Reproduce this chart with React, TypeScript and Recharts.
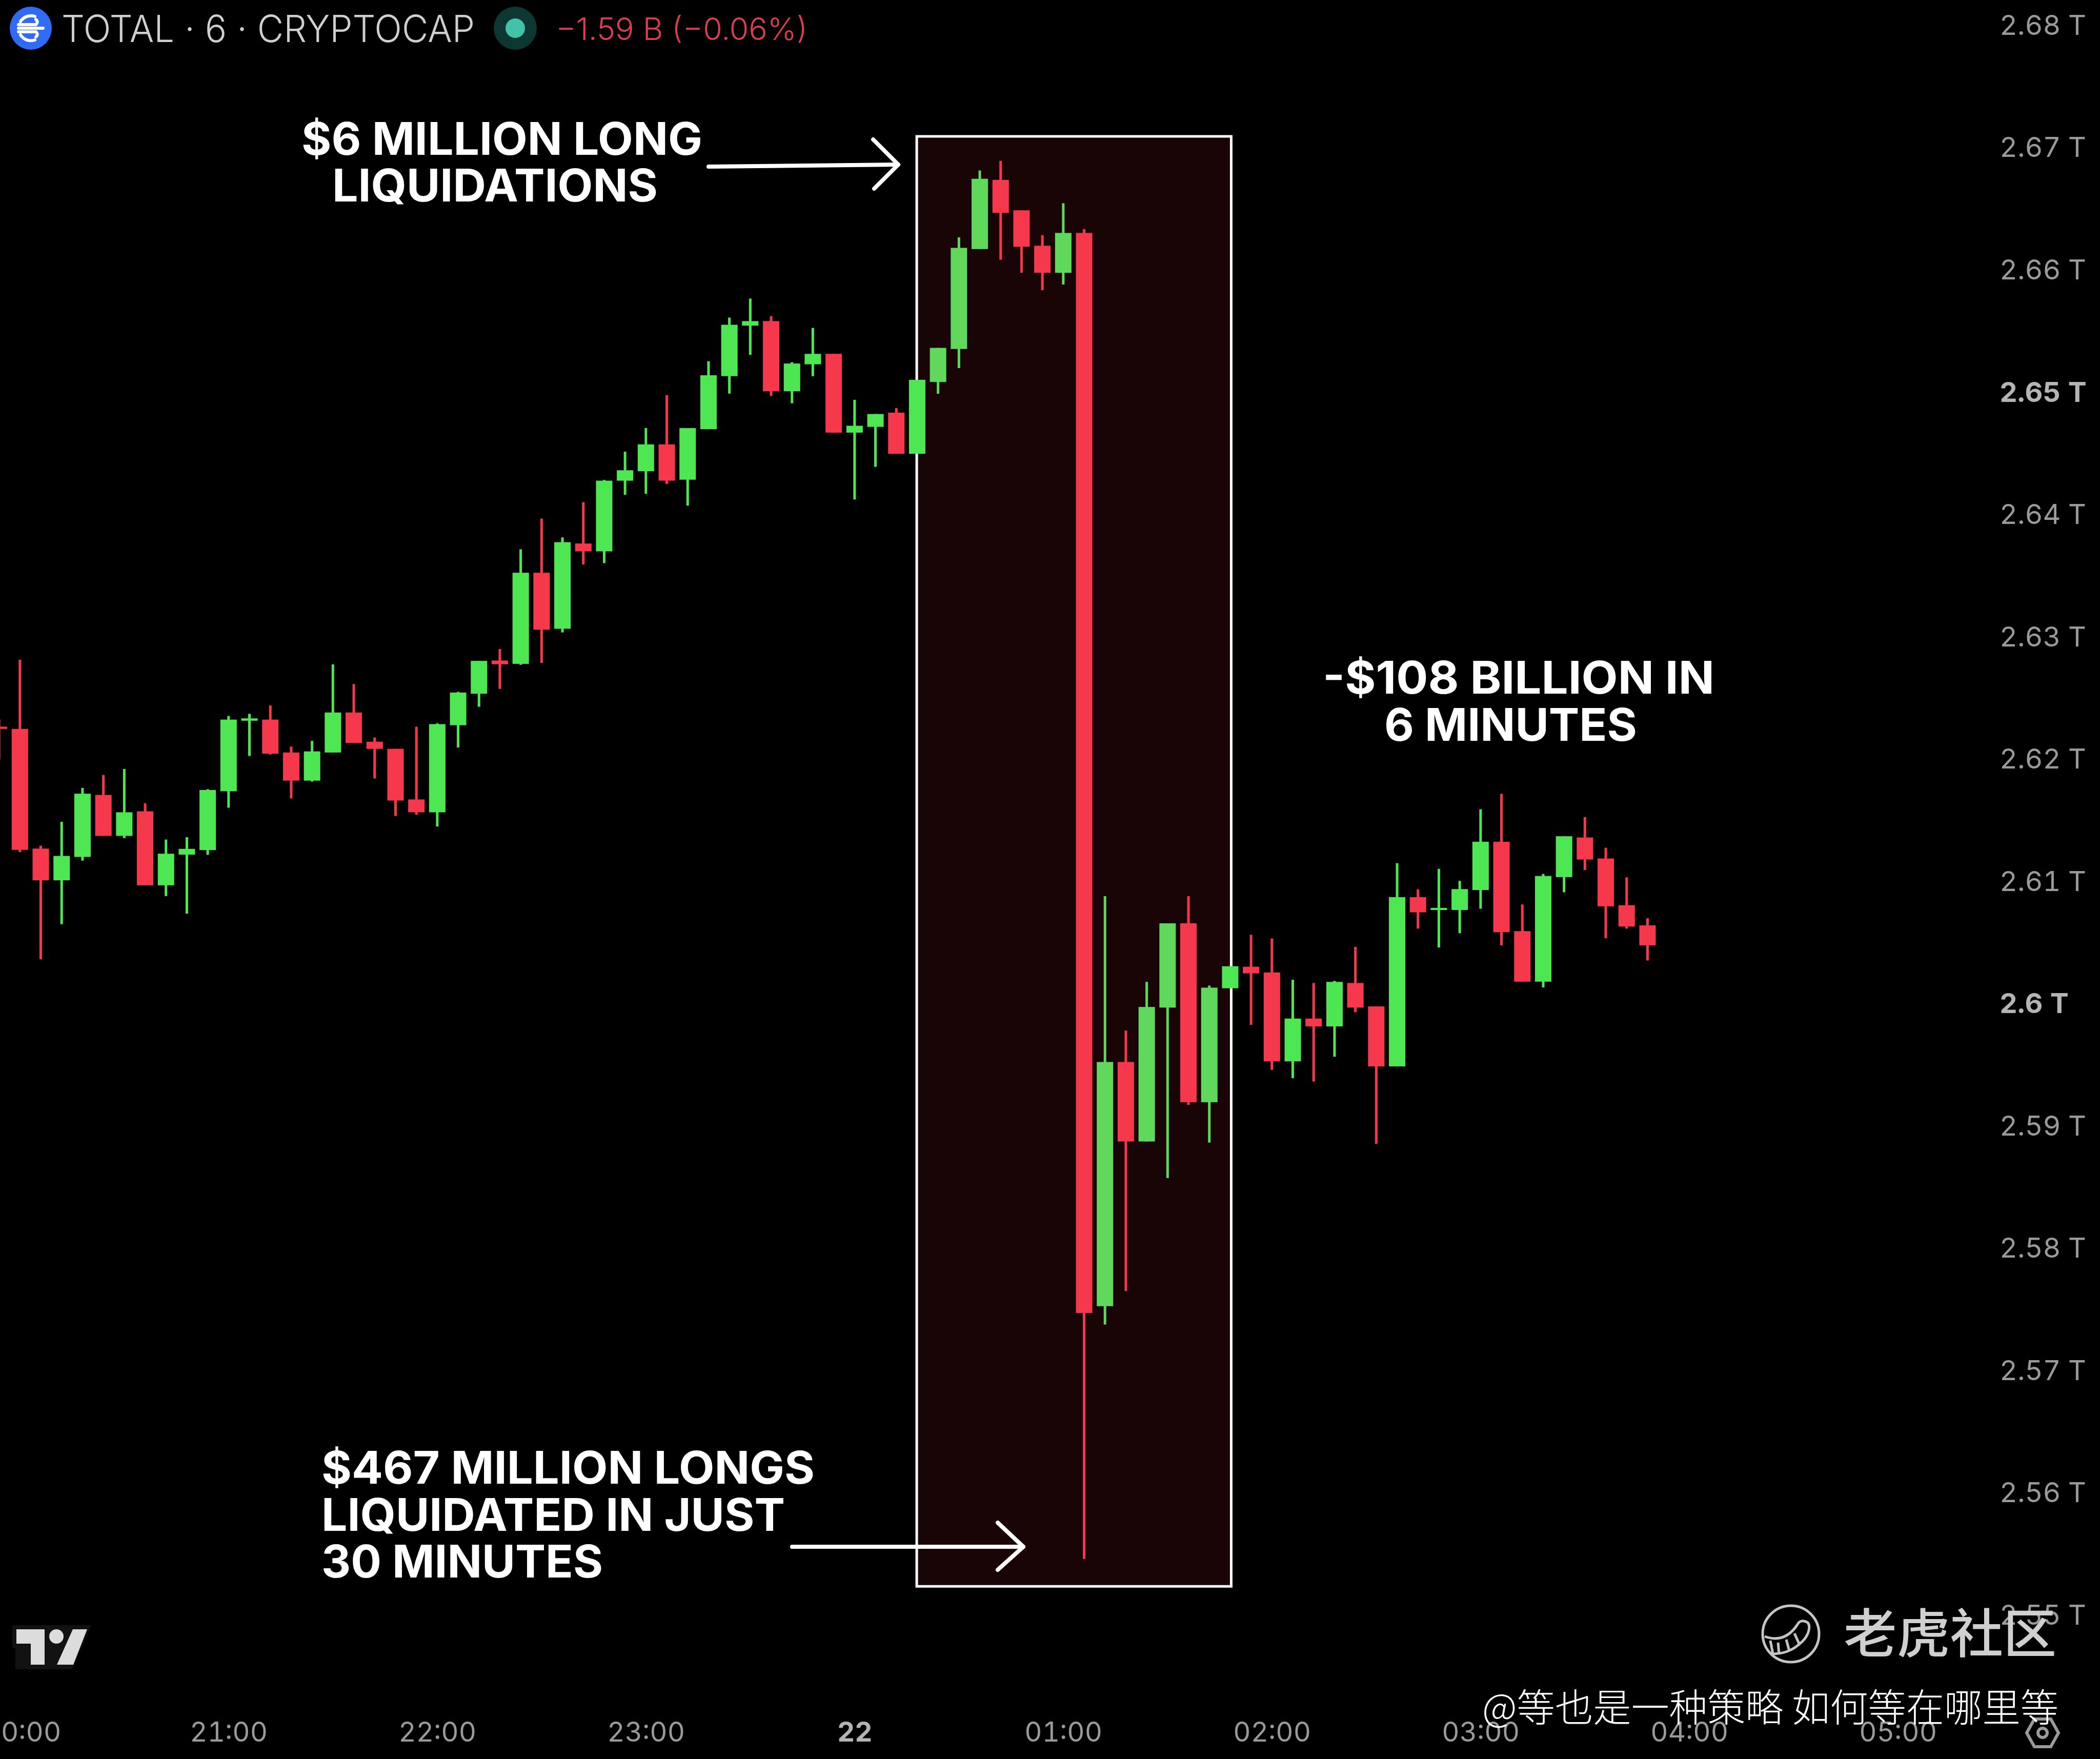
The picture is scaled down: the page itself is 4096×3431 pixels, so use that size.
import React from "react";
import { ComposedChart, Bar, XAxis, YAxis, ReferenceArea } from "recharts";

const W = 4096;
const H = 3431;
const GREEN = "#4ee652";
const GREEN_IN_WINDOW = "#5fd85c";
const RED = "#f5384c";

// Six-minute candles, values in billions of USD. First index is -1 (the one cut by the left edge).
const firstIndex = -1;
const opens = [
  2622.54, 2622.36, 2612.57, 2609.98, 2611.89, 2616.96, 2613.61, 2615.62, 2609.57, 2612.08,
  2612.45, 2617.26, 2623.03, 2623.12, 2620.43, 2618.13, 2620.43, 2623.70, 2621.31, 2620.73,
  2616.59, 2615.54, 2622.66, 2625.24, 2627.95, 2627.68, 2635.13, 2630.55, 2637.52, 2636.88,
  2642.66, 2643.43, 2645.63, 2642.74, 2646.87, 2651.21, 2655.34, 2655.71, 2649.97, 2652.18,
  2653.03, 2646.59, 2647.06, 2648.22, 2644.86, 2650.73, 2653.43, 2661.60, 2667.26, 2664.77,
  2661.87, 2659.66, 2662.92, 2575.15, 2595.12, 2588.62, 2599.57, 2606.46, 2591.83, 2601.15,
  2602.91, 2602.44, 2595.17, 2598.67, 2598.03, 2601.58, 2599.66, 2594.76, 2608.60, 2607.55,
  2607.55, 2609.18, 2613.13, 2605.82, 2601.69, 2610.24, 2613.48, 2611.76, 2607.94, 2606.29,
];
const closes = [
  2622.36, 2612.47, 2609.98, 2611.97, 2617.06, 2613.61, 2615.54, 2609.57, 2612.15, 2612.55,
  2617.36, 2623.12, 2623.22, 2620.33, 2618.13, 2620.52, 2623.70, 2621.21, 2620.73, 2616.50,
  2615.54, 2622.75, 2625.33, 2627.92, 2627.65, 2635.13, 2630.47, 2637.63, 2636.88, 2642.66,
  2643.51, 2645.63, 2642.66, 2646.96, 2651.28, 2655.41, 2655.71, 2649.97, 2652.24, 2653.03,
  2646.59, 2647.15, 2648.11, 2644.86, 2650.91, 2653.52, 2661.70, 2667.35, 2664.56, 2661.79,
  2659.66, 2662.92, 2574.59, 2595.12, 2588.62, 2599.62, 2606.46, 2591.83, 2601.20, 2602.95,
  2602.37, 2595.17, 2598.67, 2598.03, 2601.67, 2599.57, 2594.76, 2608.60, 2607.36, 2607.72,
  2609.26, 2613.13, 2605.73, 2601.69, 2610.33, 2613.58, 2611.68, 2607.85, 2606.20, 2604.66,
];
const highs = [
  2623.14, 2628.01, 2612.81, 2614.76, 2617.53, 2618.59, 2619.08, 2616.27, 2613.31, 2613.50,
  2617.43, 2623.42, 2623.59, 2624.28, 2620.91, 2621.38, 2627.64, 2626.03, 2621.66, 2620.73,
  2622.54, 2622.82, 2625.39, 2627.92, 2628.89, 2637.05, 2639.56, 2638.02, 2640.90, 2642.72,
  2645.03, 2646.96, 2649.65, 2646.96, 2652.43, 2656.00, 2657.55, 2656.11, 2652.35, 2655.15,
  2653.03, 2649.27, 2648.11, 2648.60, 2650.91, 2653.52, 2662.56, 2668.03, 2668.81, 2664.77,
  2662.73, 2665.35, 2663.23, 2608.68, 2597.69, 2601.67, 2606.46, 2608.68, 2601.37, 2602.95,
  2605.52, 2605.22, 2601.84, 2601.58, 2601.75, 2604.53, 2599.66, 2611.38, 2609.24, 2610.91,
  2609.93, 2615.79, 2617.05, 2608.00, 2610.50, 2613.58, 2615.14, 2612.64, 2610.22, 2606.87,
];
const lows = [
  2619.87, 2612.28, 2603.52, 2606.39, 2611.59, 2613.61, 2613.43, 2609.57, 2608.69, 2607.25,
  2612.06, 2615.92, 2620.15, 2620.26, 2616.68, 2618.05, 2620.43, 2621.21, 2618.31, 2615.24,
  2615.34, 2614.38, 2620.84, 2624.17, 2625.63, 2627.60, 2627.75, 2630.25, 2635.81, 2635.92,
  2641.50, 2641.59, 2642.38, 2640.62, 2646.87, 2649.78, 2652.95, 2649.59, 2648.99, 2651.21,
  2646.59, 2641.12, 2643.79, 2644.86, 2644.86, 2649.77, 2651.87, 2661.60, 2660.73, 2659.66,
  2658.24, 2658.70, 2554.48, 2573.65, 2576.39, 2588.62, 2585.63, 2591.61, 2588.53, 2601.15,
  2598.16, 2594.48, 2593.80, 2593.52, 2595.55, 2599.19, 2588.43, 2594.76, 2606.03, 2604.49,
  2605.65, 2607.66, 2604.66, 2601.69, 2601.22, 2609.00, 2610.82, 2605.24, 2606.03, 2603.42,
];

const priceTicks = [2680, 2670, 2660, 2650, 2640, 2630, 2620, 2610, 2600, 2590, 2580, 2570, 2560, 2550];
const priceLabels = ["2.68 T", "2.67 T", "2.66 T", "2.65 T", "2.64 T", "2.63 T", "2.62 T", "2.61 T", "2.6 T", "2.59 T", "2.58 T", "2.57 T", "2.56 T", "2.55 T"];
const boldPrices = [2650, 2600];

const timeTicks = [0, 10, 20, 30, 40, 50, 60, 70, 80, 90];
const timeLabels = ["0:00", "21:00", "22:00", "23:00", "22", "01:00", "02:00", "03:00", "04:00", "05:00"];
const boldTimes = [40];

// Highlighted window, in chart units
const windowStart = 42.97;
const windowEnd = 58.04;
const windowTop = 2670.82;
const windowBottom = 2552.24;

const candles = opens.map((open, k) => ({
  t: firstIndex + k,
  open,
  close: closes[k],
  high: highs[k],
  low: lows[k],
}));

const rangeKey = (d: any) => [d.low, d.high];

function Candle(props: any) {
  const { x, y, width, height, payload } = props;
  const k = height / (payload.high - payload.low);
  const up = payload.close >= payload.open;
  const top = Math.max(payload.open, payload.close);
  const bottom = Math.min(payload.open, payload.close);
  const inWindow = payload.t > windowStart + 0.5 && payload.t < windowEnd - 0.5;
  const fill = up ? (inWindow ? GREEN_IN_WINDOW : GREEN) : RED;
  const cx = x + width / 2;
  return (
    <g>
      <rect x={cx - 2.5} y={y} width={5} height={height} fill={fill} />
      <rect x={x} y={y + (payload.high - top) * k} width={width} height={(top - bottom) * k} fill={fill} />
    </g>
  );
}

function PriceTick(props: any) {
  const { x, y, payload } = props;
  const i = priceTicks.indexOf(payload.value);
  const bold = boldPrices.includes(payload.value);
  return (
    <text
      x={x + 16}
      y={y}
      dy={21}
      textAnchor="start"
      fontFamily="Inter, sans-serif"
      fontSize={54}
      fontWeight={bold ? 700 : 400}
      fill={bold ? "#b4b4b4" : "#9a9a9a"}
      style={{ fontVariantNumeric: "tabular-nums" }}
    >
      {priceLabels[i]}
    </text>
  );
}

function TimeTick(props: any) {
  const { x, y, payload } = props;
  const i = timeTicks.indexOf(payload.value);
  const bold = boldTimes.includes(payload.value);
  const first = i === 0;
  return (
    <text
      x={first ? 2 : x}
      y={y + 89}
      textAnchor={first ? "start" : "middle"}
      fontFamily="Inter, sans-serif"
      fontSize={53}
      fontWeight={bold ? 700 : 400}
      fill={bold ? "#b4b4b4" : "#9a9a9a"}
      style={{ fontVariantNumeric: "tabular-nums" }}
    >
      {timeLabels[i]}
    </text>
  );
}

const annotationFont = "Inter, sans-serif";

function Note({ x, y, w, children }: any) {
  return (
    <text
      x={x - 3}
      y={y}
      textLength={w + 6}
      lengthAdjust="spacingAndGlyphs"
      fontFamily={annotationFont}
      fontSize={88}
      fontWeight={700}
      fill="#ffffff"
    >
      {children}
    </text>
  );
}

function Overlay() {
  return (
    <svg width={W} height={H} style={{ position: "absolute", left: 0, top: 0, pointerEvents: "none" }}>
      {/* header */}
      <ellipse cx={60} cy={55} rx={41} ry={42} fill="#2f6bf4" />
      <g fill="none" stroke="#ffffff" strokeWidth={6} strokeLinecap="round">
        <path d="M68 32 A24 24 0 0 0 40 42" />
        <path d="M68 78 A24 24 0 0 1 40 68" />
        <path d="M36 48 H70 A6 6 0 0 0 70 38" />
        <path d="M36 62 H70 A6 6 0 0 1 70 72" />
        <path d="M36 55 H84" />
      </g>
      <text x={120} y={82} textLength={806} lengthAdjust="spacingAndGlyphs" fontFamily="Inter, sans-serif" fontSize={73} fontWeight={350} fill="#cfcfcf">
        TOTAL · 6 · CRYPTOCAP
      </text>
      <circle cx={1005} cy={55} r={42} fill="#0c3733" />
      <circle cx={1005} cy={55} r={19} fill="#43c2aa" />
      <text x={1084} y={78} textLength={491} lengthAdjust="spacingAndGlyphs" fontFamily="Inter, sans-serif" fontSize={60} fontWeight={350} fill="#dc3e4e">
        −1.59 B (−0.06%)
      </text>

      {/* annotations */}
      <Note x={591} y={302} w={776}>$6 MILLION LONG</Note>
      <Note x={651} y={393} w={629}>LIQUIDATIONS</Note>
      <Note x={2583} y={1353} w={758}>-$108 BILLION IN</Note>
      <Note x={2703} y={1445} w={487}>6 MINUTES</Note>
      <Note x={630} y={2894} w={956}>$467 MILLION LONGS</Note>
      <Note x={630} y={2986} w={898}>LIQUIDATED IN JUST</Note>
      <Note x={630} y={3077} w={543}>30 MINUTES</Note>

      <g fill="none" stroke="#ffffff" strokeWidth={8} strokeLinecap="round" strokeLinejoin="round">
        <path d="M1382 325 L1752 321" />
        <path d="M1703 272 L1752 321 L1705 368" />
        <path d="M1545 3017 L1996 3017" />
        <path d="M1946 2970 L1996 3017 L1946 3062" />
      </g>

      {/* TradingView mark */}
      <g fill="#dcdcdc">
        <path d="M24 3170 H178 L140 3256 H30 V3214 H24 Z" fill="#121212" />
        <path d="M32 3178 H87 V3247 H60 V3206 H32 Z" />
        <circle cx={110} cy={3192} r={14} />
        <path d="M142 3178 H170 L143 3247 H111 Z" />
      </g>

      {/* gear */}
      <g fill="none" stroke="#9a9a9a" strokeWidth={6}>
        <path d="M3953 3380 L3968 3353 H4000 L4015 3380 L4000 3407 H3968 Z" />
        <circle cx={3984} cy={3380} r={9} />
      </g>

      {/* watermark */}
      <g fill="none" stroke="#c4c4c4" strokeWidth={5}>
        <circle cx={3493} cy={3187} r={55} />
        <path d="M3442 3192 C3470 3202 3490 3192 3505 3170 C3510 3160 3518 3160 3526 3165 C3532 3172 3528 3190 3515 3202 C3495 3222 3475 3226 3455 3226" />
        <path d="M3453 3200 L3458 3226 M3468 3204 L3470 3226 M3484 3198 L3490 3220 M3500 3186 L3510 3208" />
      </g>
      <text x={3596} y={3224} textLength={415} lengthAdjust="spacingAndGlyphs" fontFamily="'Noto Sans CJK SC'" fontSize={103} fontWeight={500} fill="#cfcfcf">
        老虎社区
      </text>
      <text x={2891} y={3358} textLength={1124} lengthAdjust="spacingAndGlyphs" fontFamily="'Noto Sans CJK SC'" fontSize={75} fontWeight={300} fill="#ffffff">
        @等也是一种策略 如何等在哪里等
      </text>
    </svg>
  );
}

export default function App() {
  return (
    <div style={{ position: "absolute", left: 0, top: 0, width: W, height: H, background: "#000", overflow: "hidden" }}>
      <ComposedChart width={W} height={H} data={candles} margin={{ top: 0, right: 0, bottom: 0, left: 0 }}>
        <XAxis
          dataKey="t"
          type="number"
          domain={[-0.963, 94.27]}
          allowDataOverflow
          ticks={timeTicks}
          interval={0}
          height={131}
          axisLine={false}
          tickLine={false}
          tick={<TimeTick />}
        />
        <YAxis
          orientation="right"
          type="number"
          domain={[2543.61, 2681.97]}
          allowDataOverflow
          ticks={priceTicks}
          interval={0}
          width={220}
          axisLine={false}
          tickLine={false}
          tick={<PriceTick />}
        />
        <ReferenceArea
          x1={windowStart}
          x2={windowEnd}
          y1={windowBottom}
          y2={windowTop}
          fill="#190505"
          fillOpacity={1}
          stroke="#ffffff"
          strokeWidth={5}
          ifOverflow="visible"
        />
        <Bar dataKey={rangeKey} barSize={32} shape={<Candle />} isAnimationActive={false} />
      </ComposedChart>
      <Overlay />
    </div>
  );
}
